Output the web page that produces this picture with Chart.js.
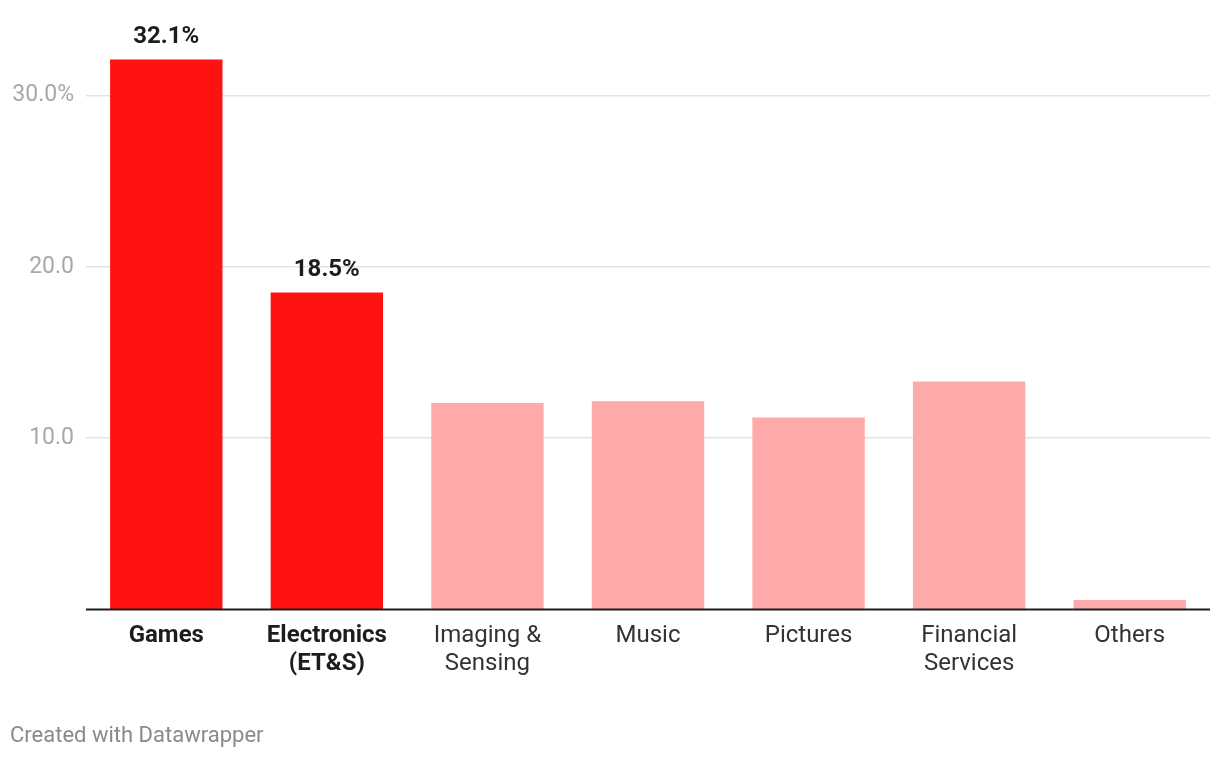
<!DOCTYPE html>
<html>
<head>
<meta charset="utf-8">
<script src="https://cdn.jsdelivr.net/npm/chart.js@4"></script>
<style>
  html, body { margin: 0; padding: 0; background: #fff; }
  #wrap { position: relative; width: 1220px; height: 758px; }
  #footer {
    position: absolute; left: 10px; top: 722px;
    font-family: Roboto, sans-serif; font-size: 22px; color: #8a8a8a;
  }
</style>
</head>
<body>
<div id="wrap">
  <canvas id="chart" width="1220" height="758"></canvas>
  <div id="footer">Created with Datawrapper</div>
</div>
<script>
// segment share values
var categories = ["Games", ["Electronics", "(ET&S)"], ["Imaging &", "Sensing"], "Music", "Pictures", ["Financial", "Services"], "Others"];
var shares = [32.1, 18.5, 12.05, 12.15, 11.2, 13.3, 0.55];
var highlighted = [true, true, false, false, false, false, false];
var valueLabels = ["32.1%", "18.5%", "", "", "", "", ""];
var yTicks = [10, 20, 30];

var red = "#ff1212";
var pink = "#ffaaaa";

var valueLabelPlugin = {
    id: "valueLabels",
    afterDatasetsDraw: function (chart) {
        var ctx = chart.ctx;
        var meta = chart.getDatasetMeta(0);
        ctx.save();
        ctx.font = "bold 24px Roboto";
        ctx.fillStyle = "#1d1d1d";
        ctx.textAlign = "center";
        ctx.textBaseline = "alphabetic";
        meta.data.forEach(function (bar, i) {
            if (valueLabels[i]) {
                ctx.fillText(valueLabels[i], bar.x, bar.y - 16);
            }
        });
        // baseline
        var y0 = chart.scales.y.getPixelForValue(0);
        ctx.strokeStyle = "#1d1d1d";
        ctx.lineWidth = 2;
        ctx.beginPath();
        ctx.moveTo(chart.chartArea.left, y0);
        ctx.lineTo(chart.chartArea.right, y0);
        ctx.stroke();
        ctx.restore();
    }
};

new Chart(document.getElementById("chart"), {
    type: "bar",
    data: {
        labels: categories,
        datasets: [{
            data: shares,
            backgroundColor: highlighted.map(function (h) { return h ? red : pink; }),
            hoverBackgroundColor: highlighted.map(function (h) { return h ? red : pink; }),
            borderWidth: 0,
            categoryPercentage: 1,
            barPercentage: 0.7
        }]
    },
    options: {
        responsive: false,
        animation: false,
        events: [],
        layout: { padding: { top: 44, right: 10, bottom: 0, left: 0 } },
        plugins: {
            legend: { display: false },
            tooltip: { enabled: false }
        },
        scales: {
            x: {
                grid: { display: false, drawTicks: false },
                border: { display: false },
                afterFit: function (scale) { scale.height = 148.5; },
                ticks: {
                    padding: 12,
                    maxRotation: 0,
                    autoSkip: false,
                    color: function (c) { return highlighted[c.index] ? "#1d1d1d" : "#333"; },
                    font: function (c) {
                        return { family: "Roboto", size: 24, weight: highlighted[c.index] ? "bold" : "normal", lineHeight: 1.17 };
                    }
                }
            },
            y: {
                min: 0,
                max: 33,
                afterFit: function (scale) { scale.width = 86; },
                afterBuildTicks: function (scale) {
                    scale.ticks = yTicks.map(function (v) { return { value: v }; });
                },
                grid: { color: "#e3e3e3", lineWidth: 1.5, drawTicks: false },
                border: { display: false },
                ticks: {
                    padding: 12,
                    color: "#a8a8a8",
                    font: { family: "Roboto", size: 23 },
                    callback: function (v) {
                        return v === 30 ? v.toFixed(1) + "%" : v.toFixed(1);
                    }
                }
            }
        }
    },
    plugins: [valueLabelPlugin]
});
</script>
</body>
</html>
